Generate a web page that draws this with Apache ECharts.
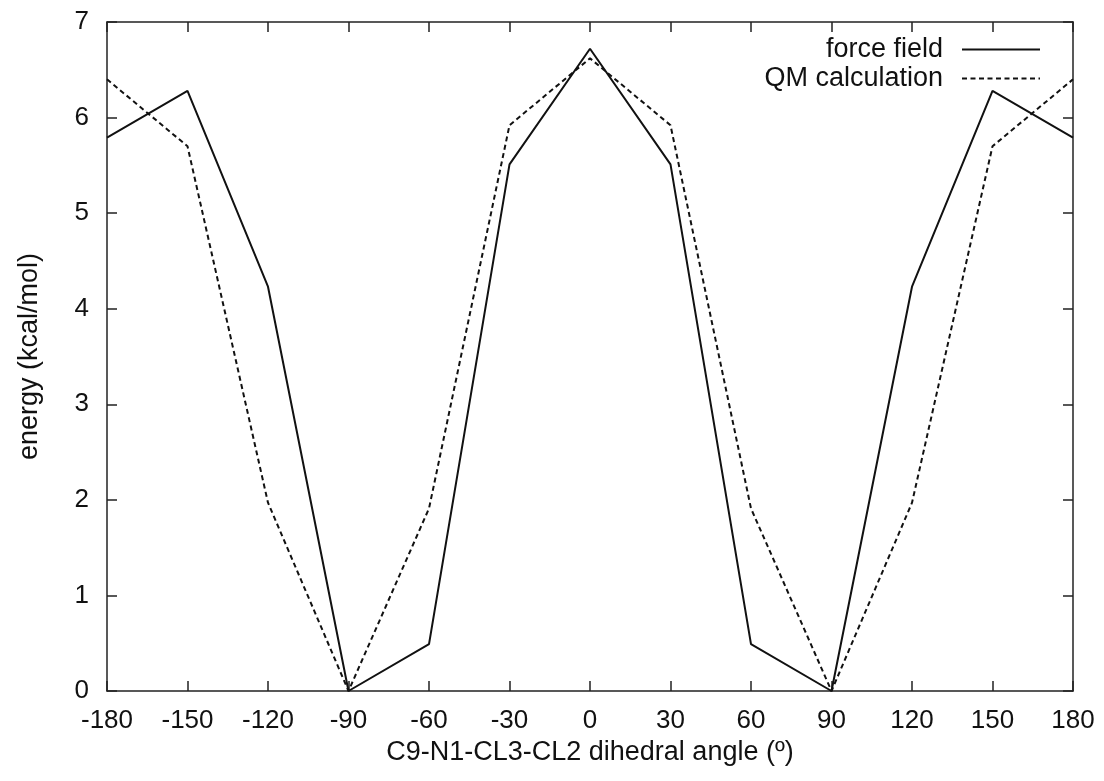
<!DOCTYPE html>
<html>
<head>
<meta charset="utf-8">
<script src="https://cdn.jsdelivr.net/npm/echarts@6/dist/echarts.min.js"></script>
<style>html,body{margin:0;padding:0;background:#fff;}#c{width:1104px;height:781px;}</style>
</head>
<body>
<div id="c"></div>
<script>
const angles = [-180, -150, -120, -90, -60, -30, 0, 30, 60, 90, 120, 150, 180];
const forceField = [5.79, 6.28, 4.23, 0, 0.49, 5.51, 6.72, 5.51, 0.49, 0, 4.23, 6.28, 5.79];
const qmCalc = [6.40, 5.70, 1.97, 0, 1.91, 5.92, 6.62, 5.92, 1.91, 0, 1.97, 5.70, 6.40];
const xTicks = [-180, -150, -120, -90, -60, -30, 0, 30, 60, 90, 120, 150, 180];
const yTicks = [0, 1, 2, 3, 4, 5, 6, 7];

const FONT = 'Liberation Sans';
const chart = echarts.init(document.getElementById('c'), null, {renderer: 'canvas'});
const axisLineStyle = {color: '#222', width: 1.5};
const lineAxis = {show: true, onZero: false, lineStyle: axisLineStyle};
const tickIn = {show: true, inside: true, length: 10, lineStyle: axisLineStyle};
chart.setOption({
  animation: false,
  backgroundColor: '#fff',
  grid: {left: 107, right: 31, top: 22, bottom: 90, containLabel: false},
  legend: {
    right: 58, top: 31, left: 'auto', bottom: 'auto', orient: 'vertical', align: 'right',
    itemWidth: 78, itemHeight: 14, itemGap: 2,
    itemStyle: {color: 'transparent', borderColor: 'transparent', borderWidth: 0, opacity: 0},
    textStyle: {fontFamily: FONT, fontSize: 27, color: '#111', padding: [0, 14, 0, 0]},
    data: ['force field', 'QM calculation']
  },
  xAxis: [{
    type: 'value', min: xTicks[0], max: xTicks[xTicks.length - 1], interval: 30,
    name: 'C9-N1-CL3-CL2 dihedral angle (º)', nameLocation: 'middle', nameGap: 46,
    nameTextStyle: {fontFamily: FONT, fontSize: 27, color: '#111'},
    axisLine: lineAxis, axisTick: tickIn,
    axisLabel: {fontFamily: FONT, fontSize: 26, color: '#111', margin: 17},
    splitLine: {show: false}
  }, {
    type: 'value', position: 'top', min: xTicks[0], max: xTicks[xTicks.length - 1], interval: 30,
    axisLine: lineAxis, axisTick: tickIn,
    axisLabel: {show: false}, splitLine: {show: false}
  }],
  yAxis: [{
    type: 'value', min: yTicks[0], max: yTicks[yTicks.length - 1], interval: 1,
    name: 'energy (kcal/mol)', nameLocation: 'middle', nameGap: 64,
    nameTextStyle: {fontFamily: FONT, fontSize: 27, color: '#111'},
    axisLine: lineAxis, axisTick: tickIn,
    axisLabel: {fontFamily: FONT, fontSize: 26, color: '#111', margin: 18},
    splitLine: {show: false}
  }, {
    type: 'value', position: 'right', min: yTicks[0], max: yTicks[yTicks.length - 1], interval: 1,
    axisLine: lineAxis, axisTick: tickIn,
    axisLabel: {show: false}, splitLine: {show: false}
  }],
  series: [{
    name: 'force field', type: 'line', symbol: 'none',
    data: angles.map((a, i) => [a, forceField[i]]),
    lineStyle: {color: '#111', width: 2, type: 'solid'},
    itemStyle: {color: '#111'}
  }, {
    name: 'QM calculation', type: 'line', symbol: 'none',
    data: angles.map((a, i) => [a, qmCalc[i]]),
    lineStyle: {color: '#111', width: 2, type: [5, 3.5]},
    itemStyle: {color: '#111'}
  }]
});
</script>
</body>
</html>
